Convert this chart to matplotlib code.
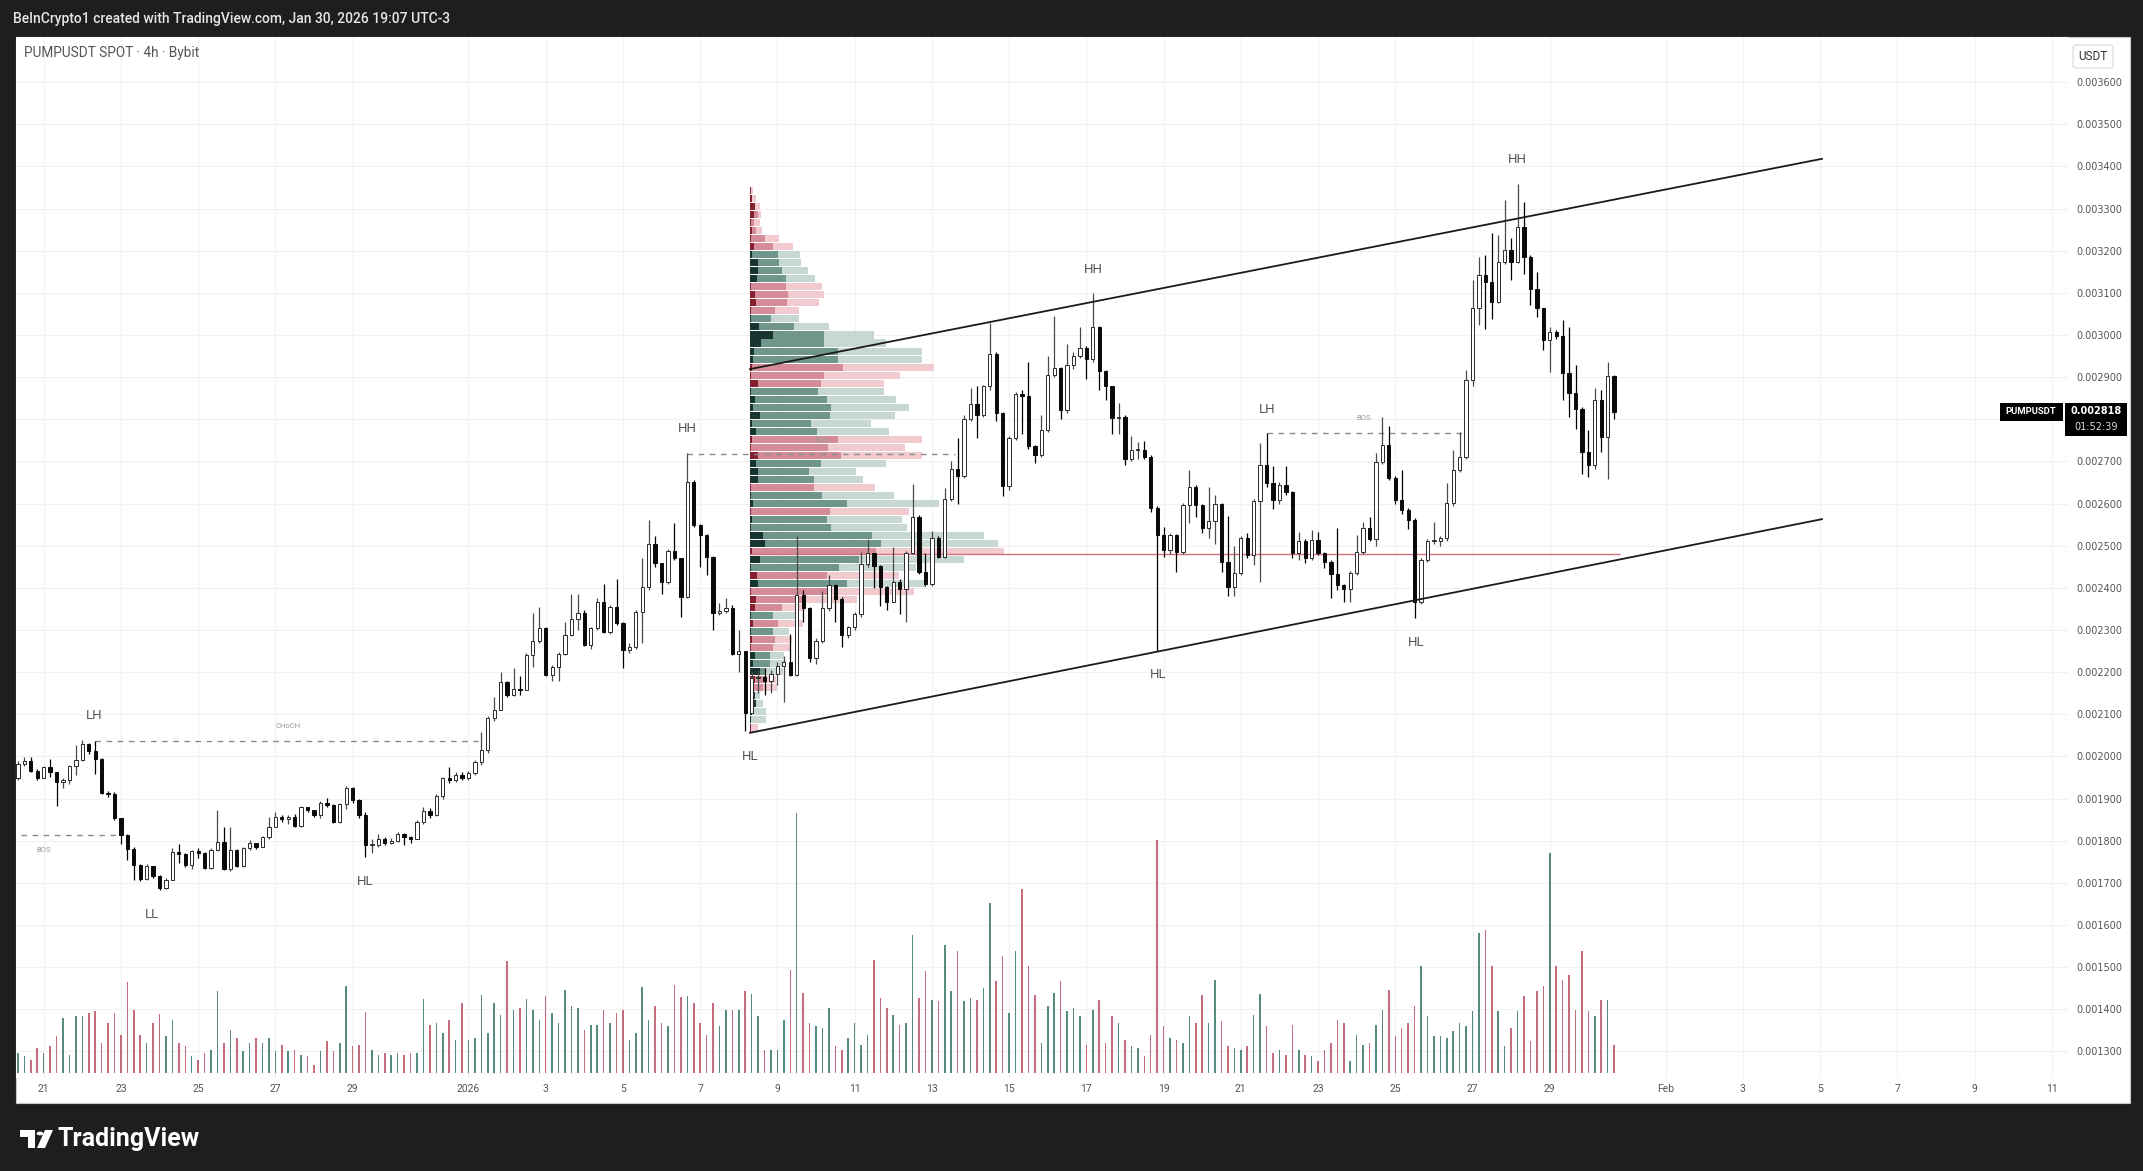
import matplotlib
matplotlib.use("Agg")
import matplotlib.pyplot as plt
import matplotlib.dates as mdates
from matplotlib.patches import Rectangle, FancyBboxPatch, Polygon, Circle
import numpy as np
import pandas as pd

W, H = 2143, 1171

# ---- 4h candles, PUMPUSDT (prices in 1e-6 USDT) ----
open0 = 1950
close = [1983, 1990, 1966, 1950, 1974, 1962, 1940, 1945, 1977, 1991,
         2030, 2012, 1995, 1914, 1910, 1853, 1813, 1781, 1742, 1708,
         1740, 1716, 1687, 1706, 1774, 1768, 1742, 1776, 1772, 1736,
         1778, 1797, 1734, 1779, 1740, 1782, 1795, 1786, 1809, 1833,
         1857, 1852, 1857, 1835, 1879, 1874, 1861, 1890, 1884, 1845,
         1887, 1924, 1896, 1861, 1789, 1790, 1805, 1795, 1800, 1815,
         1809, 1805, 1845, 1870, 1862, 1905, 1948, 1945, 1955, 1950,
         1960, 1987, 2015, 2090, 2111, 2177, 2145, 2161, 2158, 2240,
         2274, 2304, 2193, 2213, 2244, 2288, 2327, 2341, 2264, 2304,
         2367, 2296, 2355, 2316, 2252, 2260, 2343, 2402, 2504, 2458,
         2414, 2488, 2470, 2379, 2652, 2549, 2525, 2474, 2341, 2345,
         2352, 2244, 2250, 2102, 2185, 2188, 2180, 2195, 2215, 2225,
         2194, 2383, 2351, 2233, 2274, 2351, 2406, 2374, 2288, 2306,
         2338, 2456, 2483, 2451, 2401, 2366, 2415, 2397, 2483, 2569,
         2438, 2410, 2519, 2474, 2610, 2683, 2665, 2801, 2837, 2810,
         2878, 2955, 2814, 2642, 2755, 2860, 2855, 2737, 2715, 2774,
         2905, 2921, 2821, 2928, 2951, 2969, 2942, 3019, 2914, 2878,
         2803, 2805, 2706, 2728, 2728, 2711, 2589, 2525, 2490, 2525,
         2486, 2597, 2640, 2597, 2541, 2559, 2599, 2462, 2403, 2436,
         2518, 2478, 2605, 2692, 2648, 2608, 2644, 2628, 2482, 2510,
         2470, 2513, 2482, 2462, 2434, 2407, 2397, 2436, 2486, 2541,
         2517, 2699, 2739, 2660, 2608, 2585, 2561, 2367, 2466, 2510,
         2510, 2518, 2601, 2680, 2711, 2893, 3063, 3142, 3126, 3078,
         3173, 3201, 3173, 3255, 3185, 3110, 3063, 2987, 3007, 2997,
         2910, 2862, 2825, 2722, 2691, 2845, 2758, 2902, 2818]
high = [1990, 1999, 1999, 1970, 1978, 1995, 1962, 1950, 1980, 2027,
        2040, 2032, 2037, 1997, 1918, 1915, 1855, 1815, 1786, 1745,
        1745, 1740, 1718, 1712, 1782, 1793, 1770, 1778, 1782, 1774,
        1782, 1874, 1833, 1833, 1781, 1786, 1801, 1793, 1812, 1857,
        1869, 1862, 1862, 1863, 1882, 1880, 1872, 1895, 1902, 1887,
        1890, 1930, 1927, 1898, 1869, 1803, 1815, 1810, 1806, 1820,
        1818, 1812, 1850, 1880, 1878, 1910, 1952, 1975, 1962, 1962,
        1965, 1992, 2058, 2095, 2142, 2201, 2180, 2209, 2190, 2245,
        2341, 2355, 2306, 2218, 2248, 2320, 2385, 2385, 2348, 2308,
        2375, 2408, 2360, 2420, 2318, 2268, 2347, 2470, 2560, 2522,
        2460, 2492, 2555, 2472, 2719, 2655, 2552, 2527, 2476, 2365,
        2375, 2360, 2300, 2250, 2200, 2205, 2210, 2205, 2225, 2238,
        2290, 2524, 2395, 2355, 2280, 2392, 2430, 2410, 2378, 2310,
        2342, 2485, 2515, 2480, 2455, 2405, 2497, 2420, 2487, 2646,
        2572, 2482, 2534, 2522, 2637, 2701, 2755, 2810, 2873, 2878,
        2882, 3028, 2960, 2818, 2760, 2865, 2869, 2937, 2740, 2810,
        2950, 3046, 2925, 2978, 2960, 3019, 2975, 3100, 3022, 2918,
        2880, 2838, 2810, 2760, 2745, 2748, 2715, 2595, 2545, 2530,
        2528, 2602, 2680, 2645, 2600, 2640, 2620, 2602, 2570, 2500,
        2522, 2530, 2610, 2743, 2767, 2688, 2650, 2688, 2630, 2533,
        2515, 2537, 2533, 2485, 2465, 2541, 2410, 2440, 2525, 2557,
        2569, 2720, 2806, 2783, 2665, 2680, 2590, 2565, 2470, 2515,
        2557, 2522, 2648, 2727, 2770, 2917, 3130, 3185, 3189, 3241,
        3237, 3320, 3229, 3359, 3316, 3190, 3150, 3065, 3019, 3012,
        3035, 3019, 2928, 2830, 2774, 2873, 2869, 2936, 2905]
low = [1945, 1977, 1962, 1945, 1948, 1952, 1882, 1925, 1935, 1956,
       1988, 2005, 1958, 1910, 1904, 1850, 1793, 1754, 1706, 1705,
       1706, 1712, 1683, 1685, 1720, 1748, 1738, 1732, 1760, 1732,
       1734, 1775, 1730, 1728, 1738, 1738, 1779, 1780, 1784, 1805,
       1833, 1845, 1840, 1832, 1833, 1868, 1857, 1855, 1880, 1843,
       1843, 1876, 1890, 1855, 1762, 1772, 1785, 1790, 1792, 1797,
       1790, 1795, 1803, 1840, 1855, 1858, 1900, 1938, 1940, 1944,
       1945, 1955, 1980, 2008, 2085, 2110, 2140, 2143, 2146, 2160,
       2213, 2270, 2190, 2180, 2178, 2240, 2285, 2300, 2262, 2256,
       2300, 2292, 2290, 2312, 2210, 2245, 2255, 2270, 2395, 2450,
       2385, 2410, 2465, 2330, 2375, 2545, 2450, 2430, 2300, 2335,
       2340, 2240, 2200, 2060, 2130, 2150, 2145, 2150, 2170, 2130,
       2190, 2190, 2320, 2225, 2220, 2270, 2345, 2318, 2260, 2280,
       2300, 2330, 2450, 2400, 2356, 2347, 2392, 2338, 2320, 2480,
       2432, 2404, 2405, 2470, 2470, 2605, 2600, 2660, 2795, 2755,
       2805, 2870, 2796, 2619, 2633, 2750, 2765, 2730, 2696, 2710,
       2770, 2900, 2801, 2815, 2920, 2945, 2896, 2935, 2869, 2846,
       2765, 2765, 2692, 2700, 2705, 2705, 2580, 2249, 2474, 2480,
       2438, 2480, 2553, 2569, 2530, 2518, 2505, 2438, 2380, 2380,
       2430, 2470, 2455, 2415, 2640, 2588, 2600, 2620, 2470, 2466,
       2458, 2465, 2478, 2446, 2375, 2395, 2367, 2367, 2430, 2480,
       2512, 2500, 2695, 2655, 2600, 2575, 2539, 2328, 2362, 2462,
       2505, 2500, 2512, 2595, 2675, 2705, 2880, 3023, 3015, 3039,
       3075, 3168, 3130, 3170, 3145, 3070, 3043, 2964, 2912, 2990,
       2845, 2805, 2778, 2671, 2663, 2683, 2722, 2659, 2800]
volume = [60, 50, 40, 75, 60, 80, 110, 165, 55, 170,
          170, 180, 185, 90, 150, 180, 115, 272, 190, 115,
          90, 150, 178, 110, 160, 90, 80, 50, 38, 60,
          70, 245, 90, 130, 105, 65, 90, 105, 90, 105,
          65, 85, 65, 70, 55, 50, 25, 65, 95, 65,
          90, 260, 80, 85, 182, 70, 55, 60, 55, 60,
          55, 60, 60, 222, 145, 150, 120, 160, 100, 210,
          100, 105, 233, 120, 210, 175, 335, 190, 195, 222,
          190, 160, 230, 180, 150, 250, 200, 195, 130, 145,
          145, 190, 150, 180, 190, 100, 120, 258, 160, 200,
          150, 140, 263, 228, 230, 210, 150, 115, 210, 140,
          190, 190, 190, 245, 238, 170, 70, 70, 70, 160,
          310, 780, 240, 150, 140, 135, 195, 80, 70, 105,
          150, 85, 115, 340, 225, 195, 175, 145, 150, 415,
          225, 305, 220, 215, 385, 245, 365, 215, 225, 220,
          255, 510, 275, 350, 180, 365, 552, 320, 235, 90,
          200, 240, 275, 185, 195, 170, 85, 190, 218, 90,
          170, 150, 100, 80, 75, 50, 115, 700, 140, 105,
          100, 90, 170, 150, 235, 150, 280, 155, 80, 75,
          70, 80, 175, 238, 140, 60, 70, 55, 145, 70,
          55, 50, 35, 70, 90, 160, 150, 35, 115, 85,
          90, 145, 190, 250, 110, 135, 150, 200, 320, 170,
          110, 110, 105, 125, 150, 140, 185, 420, 430, 320,
          185, 80, 135, 185, 230, 95, 245, 260, 660, 320,
          280, 295, 190, 365, 185, 170, 220, 220, 85]

# ---- fixed range volume profile, rows listed top -> bottom ----
vp_low, vp_high = 2058, 3352
vp_hue = ("rrrrrrrr" "tttt" "rrrr" "tttttt" "rrr" "tttttt" "rrr" "ttt" "r" "tt" "r"
          "tttt" "r" "tt" "r" "t" "rrr" "t" "r" "t" "rr" "ttt" "rr" "tttt" "r")
vp_dark = [5, 8, 15, 12, 4, 8, 5, 12, 8, 25, 25, 22, 5, 15, 18, 5, 5, 28, 70, 35,
           12, 10, 8, 5, 25, 5, 15, 10, 32, 8, 20, 8, 5, 25, 18, 25, 25, 5, 5, 10,
           5, 8, 5, 40, 45, 8, 32, 5, 22, 25, 5, 18, 15, 5, 10, 5, 8, 5, 15, 10,
           30, 15, 10, 15, 18, 8, 5, 5]
vp_mid = [5, 8, 15, 25, 12, 20, 45, 70, 85, 88, 98, 110, 110, 115, 113, 75, 65, 135, 225, 225,
          265, 265, 280, 225, 215, 205, 232, 245, 242, 185, 202, 265, 235, 275, 215, 180, 195, 195, 218, 292,
          242, 232, 245, 370, 395, 380, 330, 270, 232, 292, 240, 170, 98, 70, 85, 70, 75, 70, 60, 60,
          45, 45, 40, 15, 18, 8, 5, 5]
vp_total = [10, 18, 32, 35, 30, 38, 90, 130, 152, 155, 175, 198, 218, 225, 208, 150, 148, 238, 375, 410,
            518, 518, 555, 452, 405, 405, 442, 480, 438, 365, 420, 518, 468, 518, 410, 322, 342, 378, 435, 570,
            480, 460, 475, 705, 748, 768, 645, 500, 450, 530, 495, 325, 165, 138, 160, 120, 128, 122, 105, 110,
            100, 80, 82, 32, 40, 50, 50, 25]
poc_price = 2480

# ---- structure labels (day offset from Dec 21, price 1e-6) ----
swing_text = ["LH", "LL", "HL", "HH", "HL", "HH", "HL", "LH", "HL", "HH"]
swing_day = [1.30, 2.81, 8.32, 16.66, 18.29, 27.17, 28.85, 31.68, 35.54, 38.17]
swing_price = [2096, 1626, 1704, 2777, 2001, 3156, 2195, 2824, 2271, 3417]
level_text = ["CHoCH", "BOS", "BOS", "BOS"]
level_day = [6.33, 0.0, 20.15, 34.19]
level_price = [2072, 1778, 2750, 2803]
dash_price = [2036, 1813, 2718, 2767]
dash_from = [1.33, -0.6, 16.66, 31.68]
dash_to = [11.25, 1.95, 23.6, 36.8]
channel_days = [18.29, 46.05]
upper_line = [2919, 3418]
lower_line = [2056, 2563]

tick_days = [0, 2, 4, 6, 8, 11, 13, 15, 17, 19, 21, 23, 25, 27, 29, 31, 33, 35, 37, 39,
             42, 44, 46, 48, 50, 52]
tick_text = ["21", "23", "25", "27", "29", "2026", "3", "5", "7", "9", "11", "13", "15",
             "17", "19", "21", "23", "25", "27", "29", "Feb", "3", "5", "7", "9", "11"]


def fx(px):
    return px / W


def fy(py):
    return 1 - py / H


plt.rcParams['font.family'] = ['Roboto', 'DejaVu Sans']
fig = plt.figure(figsize=(W / 100, H / 100), dpi=100, facecolor="#1e1e1e")

# white chart panel
fig.add_artist(Rectangle((fx(16), fy(1103)), (2130 - 16) / W, (1103 - 37) / H,
                         transform=fig.transFigure, facecolor="white",
                         edgecolor="#c8c8c8", lw=0.8, zorder=-1))

ax = fig.add_axes([fx(16), fy(1078), (2068 - 16) / W, (1078 - 37) / H])
ax.set_facecolor("white")
for s in ax.spines.values():
    s.set_visible(False)
vax = ax.twinx()
vax.set_axis_off()

times = pd.date_range("2025-12-20 08:00", periods=len(close), freq="4h")
x = mdates.date2num(times)
base = mdates.date2num(pd.Timestamp("2025-12-21"))

c = np.array(close) * 1e-6
o = np.r_[open0, close[:-1]] * 1e-6
hi = np.maximum(np.array(high) * 1e-6, np.maximum(o, c))
lo = np.minimum(np.array(low) * 1e-6, np.minimum(o, c))
up = c >= o

ax.set_xlim(base - 0.717, base + 52.42)
ax.set_ylim(0.001237, 0.003707)

yt = np.arange(13, 37) * 1e-4
ax.yaxis.tick_right()
ax.yaxis.set_label_position("right")
ax.set_yticks(yt)
ax.set_yticklabels([f"{v:.6f}" for v in yt], family="DejaVu Sans")
ax.set_xticks([base + d for d in tick_days])
ax.set_xticklabels(tick_text)
ax.tick_params(axis="y", which="both", left=False, labelleft=False, right=False, labelright=True,
               length=0, pad=6, labelsize=7, labelcolor="#555555")
ax.tick_params(axis="x", length=0, pad=4, labelsize=7.5, labelcolor="#555555")
ax.grid(True, color="#f1f1f1", lw=0.8, zorder=0)
ax.set_axisbelow(True)

# volume profile
n = len(vp_total)
edges = np.linspace(vp_high, vp_low, n + 1) * 1e-6
centers = (edges[:-1] + edges[1:]) / 2
rowh = abs(edges[1] - edges[0]) * 0.88
vp_start = base + 18.28
scale = 6.6 / max(vp_total)
pal = {"t": ("#c7d7d1", "#70968b", "#17352e"), "r": ("#f1cbd0", "#d48d98", "#85202f")}
for k in range(n):
    light, mid, dark = pal[vp_hue[k]]
    ax.barh(centers[k], vp_total[k] * scale, left=vp_start, height=rowh, color=light, lw=0, zorder=2)
    ax.barh(centers[k], vp_mid[k] * scale, left=vp_start, height=rowh, color=mid, lw=0, zorder=2.1)
    ax.barh(centers[k], vp_dark[k] * scale, left=vp_start, height=rowh, color=dark, lw=0, zorder=2.2)
ax.hlines(poc_price * 1e-6, vp_start, base + 40.82, color="#d66f7c", lw=1, zorder=2.5)

# dashed structure levels
for p, d0, d1 in zip(dash_price, dash_from, dash_to):
    ax.hlines(p * 1e-6, base + d0, base + d1, color="#8a8a8a", lw=1, linestyles=(0, (4, 4)), zorder=2.6)

# channel
ax.plot([base + d for d in channel_days], np.array(upper_line) * 1e-6, color="#1a1a1a", lw=1.3, zorder=5)
ax.plot([base + d for d in channel_days], np.array(lower_line) * 1e-6, color="#1a1a1a", lw=1.3, zorder=5)

# candles
wick_col = np.where(up, "#4a4a4a", "#000000")
ax.vlines(x, lo, hi, colors=wick_col, lw=0.9, zorder=3)
body_lo = np.minimum(o, c)
body_h = np.maximum(np.abs(c - o), 2.5e-6)
ax.bar(x, body_h, bottom=body_lo, width=0.085,
       color=np.where(up, "#ffffff", "#0a0a0a"), edgecolor=np.where(up, "#2a2a2a", "#0a0a0a"),
       lw=0.7, zorder=4)

# labels
for t, d, p in zip(swing_text, swing_day, swing_price):
    ax.text(base + d, p * 1e-6, t, ha="center", va="center", fontsize=9.5, color="#555555", zorder=6)
for t, d, p in zip(level_text, level_day, level_price):
    ax.text(base + d, p * 1e-6, t, ha="center", va="center", fontsize=5.5, color="#9a9a9a", zorder=6)

# volume
vax.set_ylim(-15, 3108)
vax.bar(x, volume, width=0.04, color=np.where(up, "#2b6e62", "#b6485b"), alpha=0.8, lw=0)

# header / footer texts
fig.text(fx(13), fy(19), "BeInCrypto1 created with TradingView.com, Jan 30, 2026 19:07 UTC-3",
         color="#e6e6e6", fontsize=10, fontweight="medium", va="center", ha="left")
fig.text(fx(24), fy(53), "PUMPUSDT SPOT · 4h · Bybit", color="#555555", fontsize=9.8,
         va="center", ha="left")

fig.add_artist(FancyBboxPatch((fx(2073), fy(68)), 40 / W, 23 / H, boxstyle="round,pad=0,rounding_size=0.002",
                              transform=fig.transFigure, facecolor="white", edgecolor="#d8d8d8", lw=0.8))
fig.text(fx(2093), fy(56), "USDT", color="#333333", fontsize=8.5, ha="center", va="center")

fig.add_artist(Rectangle((fx(2000), fy(421)), 63 / W, 18 / H, transform=fig.transFigure,
                         facecolor="black", edgecolor="none"))
fig.text(fx(2031), fy(412), "PUMPUSDT", color="white", fontsize=6.8, fontweight="bold",
         ha="center", va="center")
fig.add_artist(Rectangle((fx(2065), fy(436)), 62 / W, 33 / H, transform=fig.transFigure,
                         facecolor="black", edgecolor="none"))
fig.text(fx(2096), fy(411), "0.002818", color="white", fontsize=7, fontweight="bold",
         ha="center", va="center", family="DejaVu Sans")
fig.text(fx(2096), fy(427), "01:52:39", color="#dddddd", fontsize=7, ha="center", va="center",
         family="DejaVu Sans")

# TradingView logo
fig.add_artist(Polygon([(fx(20), fy(1130)), (fx(35), fy(1130)), (fx(35), fy(1148)),
                        (fx(28), fy(1148)), (fx(28), fy(1137)), (fx(20), fy(1137))],
                       closed=True, transform=fig.transFigure, facecolor="white", edgecolor="none"))
fig.add_artist(Circle((fx(40), fy(1133.5)), 3.4 / W, transform=fig.transFigure,
                      facecolor="white", edgecolor="none"))
fig.add_artist(Polygon([(fx(45), fy(1130)), (fx(53), fy(1130)), (fx(45), fy(1148)),
                        (fx(37), fy(1148))], closed=True, transform=fig.transFigure,
                       facecolor="white", edgecolor="none"))
fig.text(fx(57), fy(1139), "TradingView", color="white", fontsize=18, fontweight="bold",
         ha="left", va="center")

fig.savefig("out.png", dpi=100, facecolor=fig.get_facecolor())
